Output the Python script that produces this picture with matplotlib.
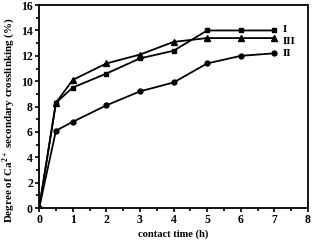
import matplotlib
matplotlib.use("Agg")
import matplotlib.pyplot as plt
from matplotlib.ticker import MultipleLocator

plt.rcParams["font.family"] = ["Liberation Serif", "DejaVu Serif"]
plt.rcParams["font.weight"] = "bold"
plt.rcParams["mathtext.fontset"] = "custom"
plt.rcParams["mathtext.rm"] = "Liberation Serif:bold"
plt.rcParams["mathtext.bf"] = "Liberation Serif:bold"

time_h = [0, 0.5, 1, 2, 3, 4, 5, 6, 7]
series_I = [0, 8.3, 9.5, 10.6, 11.8, 12.4, 14.0, 14.0, 14.0]
series_III = [0, 8.3, 10.1, 11.4, 12.1, 13.1, 13.4, 13.4, 13.4]
series_II = [0, 6.1, 6.8, 8.1, 9.2, 9.9, 11.4, 12.0, 12.2]
labels = ["I", "III", "II"]

fig = plt.figure(figsize=(3.13, 2.42), dpi=100)
ax = fig.add_axes([0.125, 0.14, 0.859, 0.839])

ax.plot(time_h, series_I, color="black", lw=1.3, marker="s", ms=3.5)
ax.plot(time_h, series_III, color="black", lw=1.3, marker="^", ms=4)
ax.plot(time_h, series_II, color="black", lw=1.3, marker="o", ms=3.5)

# end labels, nudged apart a little like in the original
nudge = [0.1, -0.3, 0.0]
for lab, ser, dy in zip(labels, [series_I, series_III, series_II], nudge):
    ax.text(time_h[-1] + 0.25, ser[-1] + dy, lab, fontsize=8, fontweight="bold",
            va="center", ha="left")

ax.set_xlim(0, 8)
ax.set_ylim(0, 16)
ax.xaxis.set_major_locator(MultipleLocator(1))
ax.xaxis.set_minor_locator(MultipleLocator(0.5))
ax.yaxis.set_major_locator(MultipleLocator(2))
ax.yaxis.set_minor_locator(MultipleLocator(1))
ax.tick_params(which="both", direction="out", width=1.2, labelsize=8.5, pad=1.5)
ax.tick_params(which="major", length=3)
ax.tick_params(which="minor", length=2)
for s in ax.spines.values():
    s.set_linewidth(1.3)

ax.set_xlabel("contact time (h)", fontsize=7.6, fontweight="bold", labelpad=2)
ax.set_ylabel("Degree of Ca$^{2+}$ secondary crosslinking (%)",
              fontsize=7.9, fontweight="bold")
ax.yaxis.set_label_coords(-0.084, 0.435)

fig.savefig("out.png", dpi=100)
